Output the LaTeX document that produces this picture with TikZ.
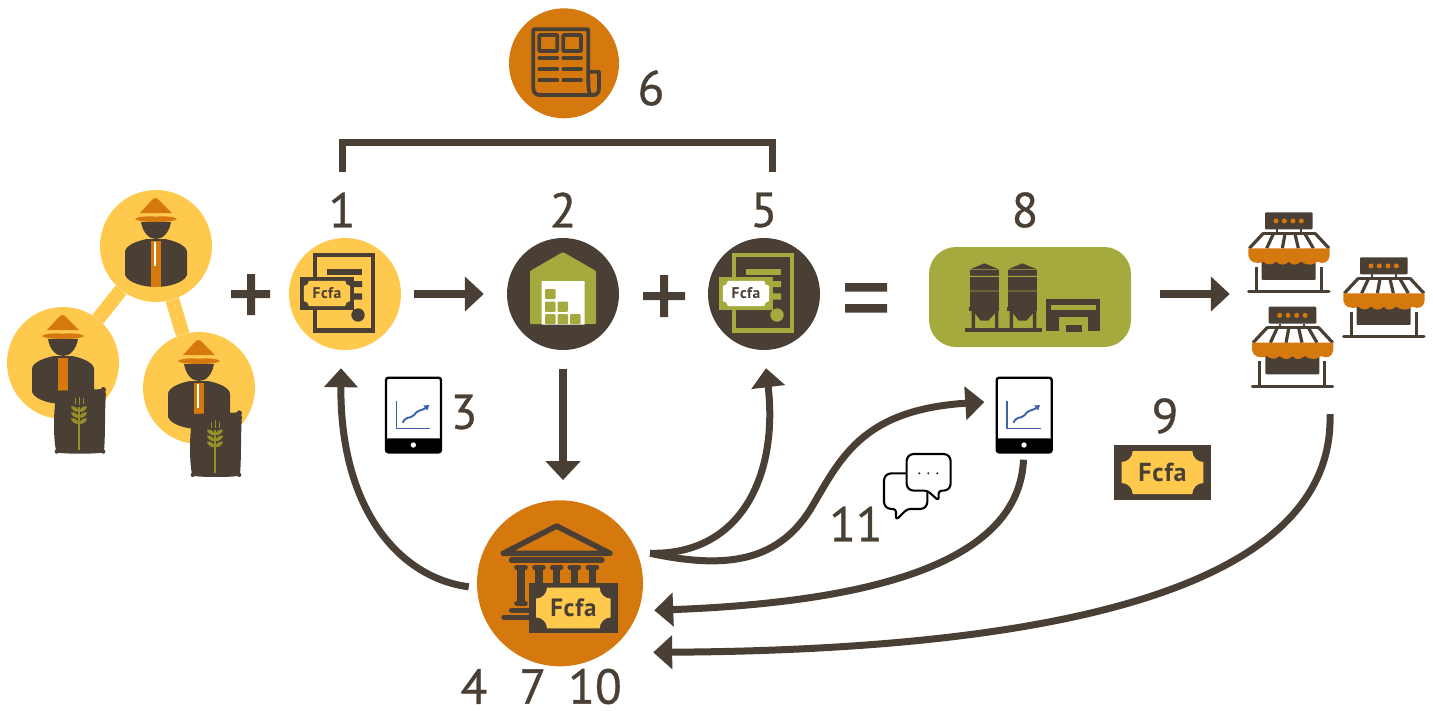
\documentclass[tikz,border=0pt]{standalone}
\usepackage{fontspec}
\usetikzlibrary{arrows.meta,calc}
\newfontfamily\numfont[FakeBold=0.7]{PT Sans}
\newfontfamily\fcfont[LetterSpace=3]{PT Sans}
\definecolor{cyel}{HTML}{FFC94D}
\definecolor{corg}{HTML}{D5790F}
\definecolor{cdrk}{HTML}{4A3F35}
\definecolor{coli}{HTML}{A4AA3E}
\definecolor{cwhe}{HTML}{958F27}
\definecolor{cblu}{HTML}{3B62AD}
\tikzset{
  disc/.style={circle,inner sep=0pt,minimum size=112pt,fill=#1},
  num/.style={inner sep=0pt,text=cdrk,font=\numfont\fontsize{49}{49}\selectfont},
  conn/.style={draw=cdrk,line width=7pt,-{Triangle[length=19pt,width=33pt]}},
  straightconn/.style={draw=cdrk,line width=8pt,-{Triangle[length=19pt,width=34pt]}},
  farmer/.pic={
    \begin{scope}[x=1pt,y=-1pt]
    % body
    \fill[cdrk] (-9,-7) -- (9,-7) .. controls (20,-5) and (31,0) .. (31,6) -- (31,29)
      .. controls (28,37) and (12,41) .. (0,41) .. controls (-12,41) and (-28,37) .. (-31,29)
      -- (-31,6) .. controls (-31,0) and (-20,-5) .. (-9,-7) -- cycle;
    \fill[corg] (-5,-5) rectangle (5,41);
    \ifx#1y\fill[white] (-1.6,-4) rectangle (0.4,20);\fi
    % face
    \fill[cdrk] (-15,-24) .. controls (-13,-13) and (-7,-7) .. (0,-7) .. controls (7,-7) and (13,-13) .. (15,-24) -- cycle;
    % hat
    \fill[corg] (-16,-33) -- (-4,-46) .. controls (-2,-48.5) and (1,-48.5) .. (3,-46) -- (16,-33) -- cycle;
    \fill[corg] (-21,-27) .. controls (-18,-31) and (18,-31) .. (21,-27) .. controls (18,-23) and (-18,-23) .. (-21,-27) -- cycle;
    \draw[cyel,line width=1.1pt] (-16,-31.5) .. controls (-6,-29.5) and (6,-29.5) .. (16,-31.5);
    \end{scope}
  },
  bagicon/.pic={
    \begin{scope}[x=.3333pt,y=-.3333pt]
    \fill[cdrk,rounded corners=2pt] (-72,-93) -- (72,-98) -- (78,-90) .. controls (74,-30) and (76,40) .. (72,88) -- (74,92)
      .. controls (40,97) and (-40,97) .. (-74,92) -- (-72,88) .. controls (-80,40) and (-80,-30) .. (-70,-85) -- cycle;
    \fill[cdrk] (70,-96) circle (8) (-70,90) circle (6) (70,90) circle (6);
    \draw[cwhe,line width=1.2pt] (-3,-45) -- (-3,85);
    \draw[cwhe,line width=.9pt] (-14,-70) -- (-14,-52) (-3,-75) -- (-3,-50) (9,-70) -- (9,-52);
    \foreach \y in {-30,-12,6}{
      \fill[cwhe] (-3,\y) .. controls (-8,\y-14) and (-18,\y-18) .. (-27,\y-16) .. controls (-26,\y-6) and (-14,\y+3) .. (-3,\y) -- cycle;
      \fill[cwhe] (-3,\y) .. controls (2,\y-14) and (12,\y-18) .. (21,\y-16) .. controls (20,\y-6) and (8,\y+3) .. (-3,\y) -- cycle;
    }
    \end{scope}
  },
  shopicon/.pic={
    \begin{scope}[x=.3333pt,y=-.3333pt]
    \fill[cdrk,rounded corners=1pt] (0,0) rectangle (143,51);
    \foreach \x in {33,58,84,109}{\fill[corg] (\x,26) circle (7.5);}
    \draw[cdrk,line width=2.2pt] (35,51) -- (35,63) (107,51) -- (107,63);
    \draw[cdrk,line width=3.2pt,line cap=round] (-5,63) -- (150,63);
    \draw[cdrk,line width=3.2pt] (-5,63) -- (-47,108) (25,65) -- (5,108) (60,65) -- (52,108)
      (90,65) -- (100,108) (120,65) -- (145,108) (150,63) -- (192,108);
    \fill[cdrk,rounded corners=1pt] (-10,145) rectangle (152,203);
    \draw[cdrk,line width=3pt] (-27,163) -- (-27,238) (168,163) -- (168,238);
    \draw[cdrk,line width=3pt,line cap=round] (-49,238) -- (192,238);
    \fill[corg] (-50,108) -- (194,108) -- (194,130) .. controls (192,150) and (175,157) .. (157,148)
      .. controls (145,160) and (125,160) .. (108,148) .. controls (95,160) and (80,160) .. (72,148)
      .. controls (60,160) and (45,160) .. (33,148) .. controls (20,160) and (5,158) .. (-5,148)
      .. controls (-25,157) and (-48,150) .. (-50,130) -- cycle;
    \end{scope}
  },
  tablet/.pic={
    \begin{scope}[x=.3333pt,y=-.3333pt]
    \draw[black,line width=2.4pt,fill=white,rounded corners=2.5pt] (0,0) rectangle (165,224);
    \fill[black,rounded corners=2pt] (0,182) rectangle (165,224);
    \fill[white] (82,202) circle (8);
    \draw[cblu,line width=1.5pt] (31,69) -- (31,152) -- (133,152);
    \draw[cblu,line width=1.9pt,-{Triangle[length=5pt,width=6pt]},rounded corners=2pt] (50,135) -- (58,122) -- (80,117) -- (95,99) -- (110,97) -- (130,82);
    \end{scope}
  }
}
% name, x0,y0,x1,y1, side margin, notch, frame, inner ; uses \billmy and \billfs
\newcommand\fcbill[9]{%
  \fill[#8] (#2,#3) rectangle (#4,#5);
  \pgfmathsetmacro\ax{#2+#6}\pgfmathsetmacro\bx{#4-#6}
  \pgfmathsetmacro\ay{#3+\billmy}\pgfmathsetmacro\by{#5-\billmy}
  \pgfmathsetmacro\axr{\ax+#7}\pgfmathsetmacro\bxr{\bx-#7}
  \pgfmathsetmacro\ayr{\ay+#7}\pgfmathsetmacro\byr{\by-#7}
  \pgfmathsetmacro\ka{\ax+.55*#7}\pgfmathsetmacro\kb{\bx-.55*#7}
  \pgfmathsetmacro\kc{\ay+.55*#7}\pgfmathsetmacro\kd{\by-.55*#7}
  \fill[#9] (\axr,\ay) -- (\bxr,\ay) .. controls (\bxr,\kc) and (\kb,\ayr) .. (\bx,\ayr)
    -- (\bx,\byr) .. controls (\kb,\byr) and (\bxr,\kd) .. (\bxr,\by)
    -- (\axr,\by) .. controls (\axr,\kd) and (\ka,\byr) .. (\ax,\byr)
    -- (\ax,\ayr) .. controls (\ka,\ayr) and (\axr,\kc) .. (\axr,\ay) -- cycle;
  \node[inner sep=0pt,text=cdrk,font=\fcfont\bfseries\fontsize{\billfs}{\billfs}\selectfont] (#1) at ($(#2,#3)!.5!(#4,#5)$) {Fcfa};
}
\newcommand\docicon[5]{% name, cx, cy, frame, inner
  \begin{scope}[shift={(#2,#3)}]
    \draw[#4,line width=4.4pt] (-30,-39) rectangle (28,36.5);
    \fill[#4] (-18,-25) rectangle (17,-19);
    \fill[#4] (9,-13) rectangle (17,-7) (9,-0.7) rectangle (17,5.6);
    \fill[#4] (13,21) circle (6.7);
    \def\billmy{3.9}\def\billfs{15.5}
    \fcbill{#1}{-45}{-17}{9}{16}{3.9}{5}{#4}{#5}
  \end{scope}
}
\begin{document}
\begin{tikzpicture}[x=1pt,y=-1pt]
\useasboundingbox (0,0) rectangle (1433,710);
% farmers
\node[disc=cyel] (f1) at (156,246) {};
\node[disc=cyel] (f2) at (63,363) {};
\node[disc=cyel] (f3) at (199,388) {};
\draw[cyel,line width=14pt] (f1) -- (f2);
\draw[cyel,line width=14pt] (f1) -- (f3);
\pic at (156,246) {farmer=y};
\pic at (63,363) {farmer=n};
\pic at (199,388) {farmer=y};
\pic at (80,421.7) {bagicon};
\pic at (216,445) {bagicon};
% plus signs
\fill[cdrk] (231,290) rectangle (270,298) (247,274) rectangle (255,315);
\fill[cdrk] (643,292) rectangle (685,300) (660,275) rectangle (668,317);
% equals
\fill[cdrk] (845,283) rectangle (887,291.5) (845,304) rectangle (887,312.5);
% main discs
\node[disc=cyel] (d1) at (345,294) {};
\node[disc=cdrk] (d2) at (563,294) {};
\node[disc=cdrk] (d3) at (764,294) {};
\node[disc=corg,minimum size=166pt] (bank) at (560,583.3) {};
\node[disc=corg,minimum size=110pt] (news) at (564,63.3) {};
\docicon{b1}{345}{294}{cdrk}{cyel}
\docicon{b3}{764}{294}{coli}{white}
% warehouse
\begin{scope}[shift={(563,294)}]
  \fill[coli,rounded corners=1pt] (0,-42) -- (33,-23) -- (33,30) -- (-33,30) -- (-33,-23) -- cycle;
  \fill[white,rounded corners=.5pt] (-21.5,-13) rectangle (21.5,30.5);
  \foreach \x/\y in {-18/20,-5.5/20,7/20,-18/7.7,-5.5/7.7,-18/-5}{
    \fill[coli,rounded corners=1pt] (\x,\y) rectangle ++(10.5,10.2);}
\end{scope}
% newspaper
\begin{scope}[shift={(500,0)},x=.3333pt,y=-.3333pt,cdrk,line width=3.8pt]
  \draw[line join=round] (265,215) -- (265,88) -- (100,88) -- (100,265) .. controls (100,278) and (108,285) .. (120,285) -- (280,285)
     .. controls (265,285) and (265,275) .. (265,215) -- (297,215) -- (297,265) .. controls (297,278) and (290,285) .. (280,285);
  \draw[rounded corners=1pt] (118,105) rectangle (172,153) (190,105) rectangle (243,153);
  \foreach \y in {173,208,241}{
    \draw[line cap=round] (118,\y) -- (172,\y) (190,\y) -- (243,\y);}
\end{scope}
% bank icon
\begin{scope}[shift={(460,490)},x=.3333pt,y=-.3333pt,cdrk,line cap=round]
  \draw[line width=5.5pt,line join=round] (130,190) -- (290,108) -- (450,190) -- cycle;
  \draw[line width=6pt] (155,210) -- (425,210);
  \foreach \x in {183,237,290,343,397}{
    \draw[line width=5pt] (\x-13,232) -- (\x+13,232);
    \fill (\x-11,232) rectangle (\x+11,345);}
  \draw[line width=5pt] (170,341) -- (196,341);
  \draw[line width=5.5pt] (155,361) -- (215,361);
  \draw[line width=5.5pt] (132,382) -- (215,382);
\end{scope}
\def\billmy{4.3}\def\billfs{25}
\fcbill{bb}{529}{583.3}{617.7}{632.7}{7}{11}{cdrk}{cyel}
\def\billmy{6}\def\billfs{26}
\fcbill{b9}{1114}{445}{1211}{500}{7.7}{11}{cdrk}{cyel}
% factory
\node[fill=coli,rounded corners=27pt,minimum width=202pt,minimum height=100pt,inner sep=0pt] (fac) at (1030,297) {};
\begin{scope}[shift={(920,200)},x=.3333pt,y=-.3333pt]
  \foreach \d in {0,114}{
    \begin{scope}[shift={(\d,0)}]
    \fill[cdrk] (150,208) -- (193,190) -- (237,208) -- cycle;
    \fill[cdrk] (150,211) rectangle (237,320);
    \fill[coli] (150,228) rectangle (237,230.5) (150,272) rectangle (237,274.5);
    \fill[cdrk] (148,322) rectangle (238,332);
    \fill[cdrk] (155,322) rectangle (165,386) (225,322) rectangle (235,386);
    \fill[cdrk] (165,332) -- (225,332) -- (225,340) -- (205,362) -- (182,362) -- (165,340) -- cycle;
    \end{scope}}
  \fill[cdrk] (135,384) rectangle (366,396);
  \fill[cdrk] (378,297) rectangle (540,394);
  \fill[coli] (392,315) rectangle (527,331);
  \fill[coli] (418,352) rectangle (505,394.5);
  \fill[cdrk] (438,375) rectangle (486,395);
\end{scope}
% shops
\pic at (1265,212.3) {shopicon};
\pic at (1360,257.3) {shopicon};
\pic at (1268.7,306.7) {shopicon};
% tablets
\pic at (386,377.7) {tablet};
\pic at (996.7,377.7) {tablet};
\node[inner sep=0pt,minimum width=56pt,minimum height=75pt] (t1) at (414.2,415) {};
\node[inner sep=0pt,minimum width=56pt,minimum height=75pt] (t2) at (1024.5,415) {};
\node[inner sep=0pt,minimum width=180pt,minimum height=180pt] (shops) at (1335,300) {};
% chat bubbles
\begin{scope}[shift={(820,370)},x=.3333pt,y=-.3333pt,line width=2.1pt,line join=round]
  \draw[black,fill=white,rounded corners=3pt] (228,417) -- (205,417) -- (192,405) -- (192,322) -- (205,310) -- (310,310) -- (322,322) -- (322,405) -- (310,417) -- (262,417) -- (228,450) -- cycle;
  \draw[black,fill=white,rounded corners=3pt] (322,362) -- (272,362) -- (260,350) -- (260,264) -- (272,252) -- (380,252) -- (392,264) -- (392,350) -- (380,362) -- (356,362) -- (356,392) -- cycle;
  \fill[black!80] (298,310) circle (3.5) (325,310) circle (3.5) (352,310) circle (3.5);
\end{scope}
% bracket
\draw[cdrk,line width=7pt] (342,172) -- (342,142) -- (772,142) -- (772,172);
% labels
\node[num] (l1) at (342,210) {1};
\node[num] (l2) at (563,210) {2};
\node[num] (l5) at (764,210) {5};
\node[num] (l8) at (1025,210) {8};
\node[num] (l6) at (651,88) {6};
\node[num] (l3) at (464,412) {3};
\node[num] (l9) at (1165,416) {9};
\node[num] (l11) at (856,524) {11};
\node[num] (l4) at (474,686.5) {4};
\node[num] (l7) at (533,686.5) {7};
\node[num] (l10) at (595,686.5) {10};
% connectors
\draw[straightconn] ($(d1.east)+(13,0)$) -- ($(d2.west)+(-23,0)$);
\draw[straightconn] ($(fac.east)+(29,-3)$) -- ($(shops.west)+(-15,-6)$);
\draw[straightconn] ($(d2.south)+(0,19)$) -- ($(bank.north)+(3,-20)$);
\draw[conn] ($(bank.west)+(-8,3.5)$) .. controls (400,578) and (340,510) .. ($(d1.south)+(-4,18)$);
\draw[conn] ($(bank.east)+(7,-30)$) .. controls (745,555) and (778,470) .. ($(d3.south)+(2,18)$);
\draw[conn] ($(bank.east)+(7,-30)$) .. controls (720,568) and (775,565) .. (810,510) .. controls (840,460) and (860,410) .. ($(t2.west)+(-12,-13)$);
\draw[conn] ($(t2.south)+(-1,7)$) .. controls (1020,540) and (930,600) .. ($(bank.east)+(11,27)$);
\draw[conn] ($(shops.south)+(-5,24)$) .. controls (1335,590) and (1050,650) .. ($(bank.east)+(10,69)$);
\end{tikzpicture}
\end{document}
